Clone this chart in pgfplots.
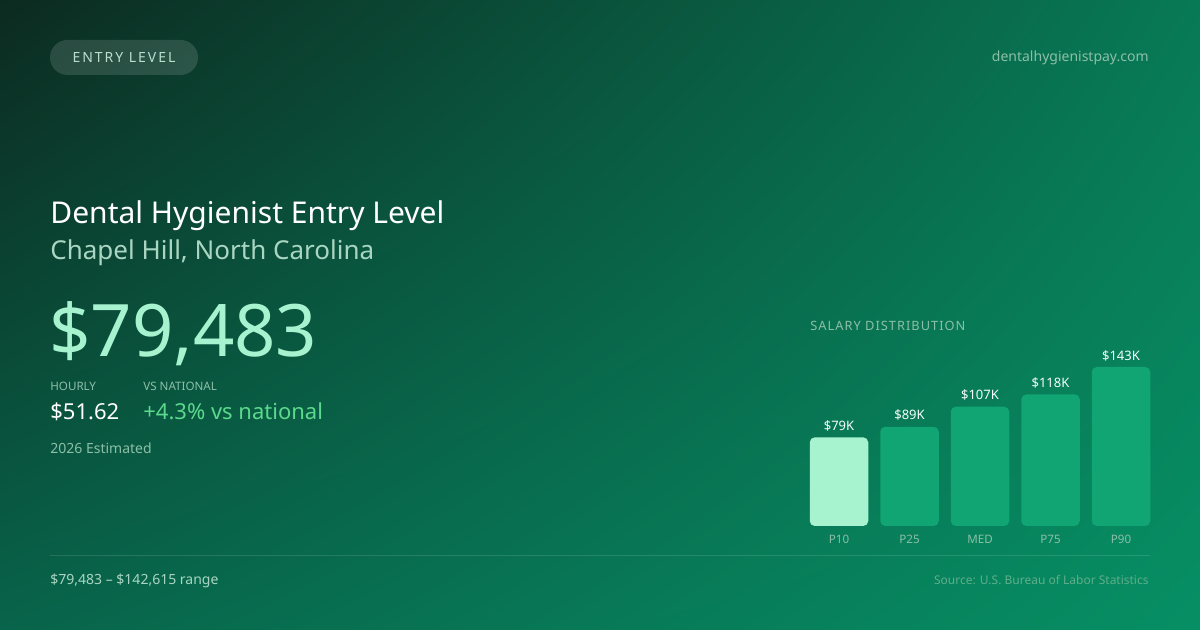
\documentclass[border=0pt]{standalone}
\usepackage{pgfplots}
\pgfplotsset{compat=1.18}
\usepackage{pgfplotstable}
\usetikzlibrary{shadings}
\usepackage{fontspec}
\setmainfont{Noto Sans}
\definecolor{bgTL}{HTML}{0C2A20}
\definecolor{bgTR}{HTML}{087955}
\definecolor{bgBL}{HTML}{08644A}
\definecolor{bgBR}{HTML}{078F64}
\definecolor{mint}{HTML}{A7F3D0}
\definecolor{barg}{HTML}{10A572}
\definecolor{subtxt}{HTML}{A9D6C2}
\definecolor{dimtxt}{HTML}{8CBFA8}
\definecolor{greentxt}{HTML}{5BD98C}
\definecolor{srctxt}{HTML}{5FAE8A}
\pgfplotstableread{
x v lab
0 79.483 {\$79K}
}\lowtab
\pgfplotstableread{
x v lab
1 89.0 {\$89K}
2 107.0 {\$107K}
3 118.0 {\$118K}
4 142.615 {\$143K}
}\hightab
\begin{document}
\begin{tikzpicture}[x=0.5pt,y=0.5pt]
\shade[upper left=bgTL, upper right=bgTR, lower left=bgBL, lower right=bgBR] (0,0) rectangle (1200,630);
% badge
\fill[white, fill opacity=0.13, rounded corners=8.75pt] (50,630-75) rectangle (198,630-40);
\node[anchor=center, text=subtxt!80!white, font=\fontsize{7}{8}\selectfont\addfontfeature{LetterSpace=14}] at (124,630-58) {ENTRY LEVEL};
\node[anchor=east, inner sep=0, text=dimtxt, font=\fontsize{7}{8}\selectfont] at (1149,630-58) {dentalhygienistpay.com};
% titles
\node[anchor=base west, inner sep=0, text=white, font=\fontsize{15}{17}\selectfont] at (50,630-224) {Dental Hygienist Entry Level};
\node[anchor=base west, inner sep=0, text=subtxt, font=\fontsize{13}{15}\selectfont] at (50,630-260) {Chapel Hill, North Carolina};
\node[anchor=base west, inner sep=0, text=mint, font=\fontsize{36.2}{40}\selectfont] at (49,630-357) {\$79,483};
\node[anchor=base west, inner sep=0, text=dimtxt, font=\fontsize{5.8}{6}\selectfont] at (50,630-391) {HOURLY};
\node[anchor=base west, inner sep=0, text=dimtxt, font=\fontsize{5.8}{6}\selectfont] at (143,630-391) {VS NATIONAL};
\node[anchor=base west, inner sep=0, text=white, font=\fontsize{11}{13}\selectfont] at (50,630-420) {\$51.62};
\node[anchor=base west, inner sep=0, text=greentxt, font=\fontsize{11}{13}\selectfont] at (143,630-420) {+4.3\% vs national};
\node[anchor=base west, inner sep=0, text=dimtxt, font=\fontsize{7}{8}\selectfont] at (50,630-454) {2026 Estimated};
\node[anchor=base west, inner sep=0, text=dimtxt, font=\fontsize{6.4}{7}\selectfont\addfontfeature{LetterSpace=8}] at (810,630-331) {SALARY DISTRIBUTION};
% separator
\draw[white, opacity=0.12, line width=0.5pt] (50,630-556) -- (1150,630-556);
\node[anchor=base west, inner sep=0, text=subtxt, font=\fontsize{7}{8}\selectfont] at (50,630-585) {\$79,483 -- \$142,615 range};
\node[anchor=base east, inner sep=0, text=srctxt, font=\fontsize{6}{7}\selectfont] at (1149,630-585) {Source: U.S. Bureau of Labor Statistics};
% chart
\coordinate (chartorigin) at (803.75,104);
\begin{axis}[
  at={(chartorigin)}, anchor=south west,
  scale only axis, width=176.25pt, height=83.625pt,
  xmin=-0.5, xmax=4.5, ymin=0, ymax=150,
  axis line style={draw=none}, tick style={draw=none},
  ytick=\empty, xtick={0,1,2,3,4}, xticklabels={P10,P25,MED,P75,P90},
  xticklabel style={text=dimtxt, font=\fontsize{5.8}{6}\selectfont, anchor=base, inner sep=0pt, yshift=-4.5pt},
  ybar, bar width=29.25pt, bar shift=0pt,
  nodes near coords, point meta=explicit symbolic,
  every node near coord/.append style={text=white!88!mint, font=\fontsize{6.5}{7}\selectfont, anchor=south, yshift=-0.5pt},
  clip=false,
]
\addplot[fill=mint, draw=none, rounded corners=2.5pt] table[x=x, y=v, meta=lab] {\lowtab};
\addplot[fill=barg, draw=none, rounded corners=2.5pt] table[x=x, y=v, meta=lab] {\hightab};
\end{axis}
\end{tikzpicture}
\end{document}
